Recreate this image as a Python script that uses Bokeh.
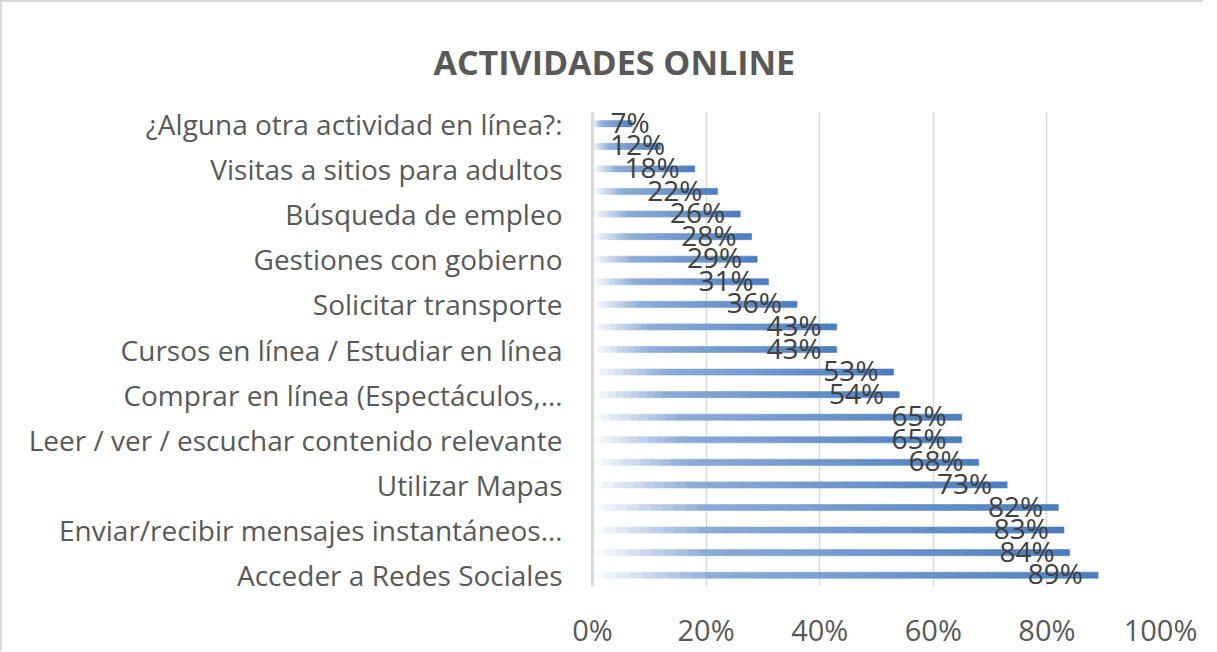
from bokeh.plotting import figure
from bokeh.models import Range1d, FixedTicker, ColumnDataSource, Title
from bokeh.embed import file_html
from bokeh.resources import INLINE
from bokeh.core.properties import value

# Data (bottom to top)
categories = [
    "Acceder a Redes Sociales", "",
    "Enviar/recibir mensajes instantáneos…", "",
    "Utilizar Mapas", "",
    "Leer / ver / escuchar contenido relevante", "",
    "Comprar en línea (Espectáculos,…", "",
    "Cursos en línea / Estudiar en línea", "",
    "Solicitar transporte", "",
    "Gestiones con gobierno", "",
    "Búsqueda de empleo", "",
    "Visitas a sitios para adultos", "",
    "¿Alguna otra actividad en línea?:",
]
values = [89, 84, 83, 82, 73, 68, 65, 65, 54, 53, 43, 43, 36, 31, 29, 28, 26, 22, 18, 12, 7]
x_ticks = [0, 20, 40, 60, 80, 100]
x_tick_labels = ["0%", "20%", "40%", "60%", "80%", "100%"]

FONT = "Open Sans"
GRID = "#d9d9d9"
TXT = "#595959"

p = figure(width=1201, height=636, output_backend="svg", toolbar_location=None,
           x_range=Range1d(0, 100), y_range=Range1d(-0.5, len(values) - 0.5),
           frame_width=568, frame_height=474,
           min_border_left=590, min_border_top=110, min_border_right=43, min_border_bottom=52)
p.styles = {"border-top": "2px solid #d9d9d9", "border-left": "2px solid #d9d9d9"}
p.outline_line_color = None
p.background_fill_color = "white"
p.border_fill_color = "white"

# Title
p.title = Title(text="ACTIVIDADES ONLINE", align="left", offset=-159,
                text_font=FONT, text_font_size="34px", text_font_style="bold",
                text_color=TXT, standoff=56)

# gradient stops
def hex2rgb(h):
    return tuple(int(h[i:i + 2], 16) for i in (1, 3, 5))

stops = [(0.0, hex2rgb("#ffffff")), (0.24, hex2rgb("#8cacd8")), (1.0, hex2rgb("#4a7dbe"))]

def grad(t):
    for (t0, c0), (t1, c1) in zip(stops[:-1], stops[1:]):
        if t <= t1:
            f = (t - t0) / (t1 - t0)
            return "#%02x%02x%02x" % tuple(int(round(a + (b - a) * f)) for a, b in zip(c0, c1))
    return "#%02x%02x%02x" % stops[-1][1]

N = 40
ys, ls, rs, cs = [], [], [], []
for i, v in enumerate(values):
    for k in range(N):
        ys.append(i)
        ls.append(v * k / N)
        rs.append(v * (k + 1) / N)
        cs.append(grad((k + 0.5) / N))
src = ColumnDataSource(dict(y=ys, left=ls, right=rs, color=cs))
p.hbar(y="y", left="left", right="right", height=0.27, fill_color="color",
       line_color="color", line_width=0.6, source=src)

# data labels
px_per_unit = 567.5 / 100.0
lx, ly, lt = [], [], []
for i, v in enumerate(values):
    t = f"{v}%"
    w = 22 + 15 * (len(t) - 1)
    c = max(v - 7.5, (19 + w / 2) / px_per_unit)
    lx.append(c)
    ly.append(i)
    lt.append(t)
p.text(x=lx, y=ly, text=lt, text_align="center", text_baseline="middle",
       text_font=value(FONT), text_font_size="28px", text_color="#404040",
       y_offset=-2)

# axes
p.xaxis.ticker = FixedTicker(ticks=x_ticks)
p.xaxis.major_label_overrides = {t: l for t, l in zip(x_ticks, x_tick_labels)}
p.xaxis.axis_line_color = None
p.xaxis.major_tick_line_color = None
p.xaxis.minor_tick_line_color = None
p.xaxis.major_label_standoff = 17
p.xaxis.major_label_text_font = FONT
p.xaxis.major_label_text_font_size = "29px"
p.xaxis.major_label_text_color = TXT

label_ticks = [i for i, c in enumerate(categories) if c]
p.yaxis.ticker = FixedTicker(ticks=label_ticks)
p.yaxis.major_label_overrides = {i: categories[i] for i in label_ticks}
p.yaxis.axis_line_color = GRID
p.yaxis.axis_line_width = 3
p.yaxis.major_tick_line_color = None
p.yaxis.minor_tick_line_color = None
p.yaxis.major_label_standoff = 24
p.yaxis.major_label_text_font = FONT
p.yaxis.major_label_text_font_size = "28px"
p.yaxis.major_label_text_color = TXT

p.xgrid.ticker = FixedTicker(ticks=x_ticks)
p.xgrid.grid_line_color = GRID
p.xgrid.grid_line_width = 1.5
p.ygrid.grid_line_color = None

open("out.html", "w").write(file_html(p, INLINE))
